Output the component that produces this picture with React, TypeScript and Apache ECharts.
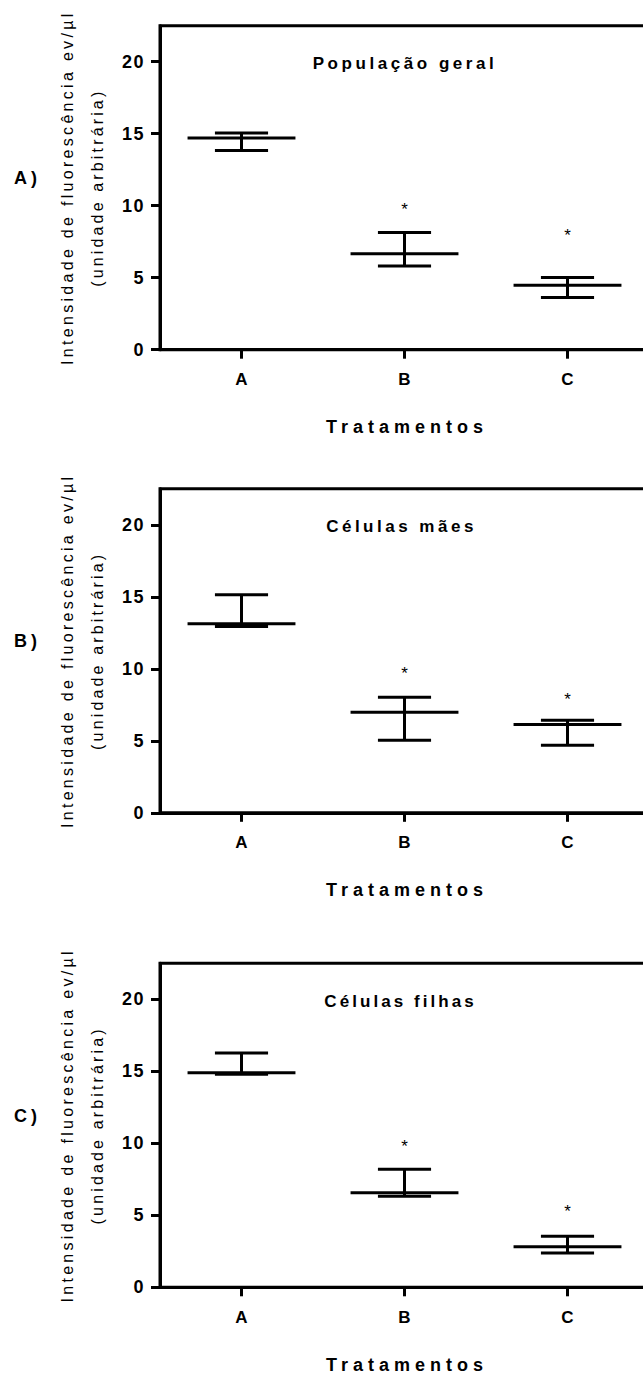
import React, { useEffect, useRef } from "react";
import * as echarts from "echarts";

// ---- data ----
const categories = ["A", "B", "C"];
const panelTitles = ["População geral", "Células mães", "Células filhas"];
const panelLetters = ["A)", "B)", "C)"];
const yTicks = [0, 5, 10, 15, 20];
const xAxisTitle = "Tratamentos";
const yTitle1 = "Intensidade de fluorescência ev/µl";
const yTitle2 = "(unidade arbitrária)";

// Panel A: População geral
const centerGeral = [14.7, 6.66, 4.48];
const upperGeral = [15.05, 8.14, 5.01];
const lowerGeral = [13.84, 5.82, 3.62];
const starGeral = [null, 9.95, 8.16];

// Panel B: Células mães
const centerMaes = [13.12, 6.99, 6.13];
const upperMaes = [15.14, 8.02, 6.42];
const lowerMaes = [12.94, 5.04, 4.69];
const starMaes = [null, 9.87, 8.1];

// Panel C: Células filhas
const centerFilhas = [14.9, 6.56, 2.82];
const upperFilhas = [16.27, 8.2, 3.54];
const lowerFilhas = [14.79, 6.32, 2.38];
const starFilhas = [null, 9.97, 5.44];

const centers = [centerGeral, centerMaes, centerFilhas];
const uppers = [upperGeral, upperMaes, upperFilhas];
const lowers = [lowerGeral, lowerMaes, lowerFilhas];
const stars = [starGeral, starMaes, starFilhas];

// ---- layout ----
const FONT = "Liberation Sans";
const gridTops = [25.7, 488.8, 963.3];
const gridHeight = 324;
const gridLeft = 160;
const gridWidth = 489;
const titleXs = [405, 401.5, 400.5];

const spacingMap: Record<string, number> = {
  "População geral": 3.55,
  "Células mães": 3.5,
  "Células filhas": 3.05,
  Tratamentos: 5,
  "A)": 4,
  "B)": 4,
  "C)": 4,
  [yTitle1]: 3.3,
  [yTitle2]: 3.15,
  "0": 1.5,
  "5": 1.5,
  "10": 1.5,
  "15": 1.5,
  "20": 1.5,
};

export default function App() {
  const ref = useRef<HTMLDivElement>(null);

  useEffect(() => {
    const el = ref.current!;
    const chart = echarts.init(el, undefined, { renderer: "svg" });

    const grids: any[] = [];
    const xAxes: any[] = [];
    const yAxes: any[] = [];
    const series: any[] = [];
    const graphics: any[] = [];

    const lineStyle = { color: "#000", width: 3 };

    for (let p = 0; p < 3; p++) {
      const T = gridTops[p];
      grids.push({
        left: gridLeft,
        top: T,
        width: gridWidth,
        height: gridHeight,
        show: true,
        borderColor: "#000",
        borderWidth: 3,
        backgroundColor: "transparent",
      });
      xAxes.push({
        type: "category",
        gridIndex: p,
        data: categories,
        boundaryGap: true,
        axisLine: { show: true, lineStyle },
        axisTick: { show: true, alignWithLabel: true, length: 9, lineStyle },
        axisLabel: {
          color: "#000",
          fontFamily: FONT,
          fontWeight: "bold",
          fontSize: 17,
          margin: 30,
          verticalAlign: "middle",
        },
        splitLine: { show: false },
      });
      yAxes.push({
        type: "value",
        gridIndex: p,
        min: 0,
        max: 22.5,
        interval: 5,
        axisLine: { show: true, lineStyle },
        axisTick: { show: true, length: 9, lineStyle, customValues: yTicks },
        axisLabel: {
          color: "#000",
          fontFamily: FONT,
          fontWeight: "bold",
          fontSize: 18,
          margin: 15,
          customValues: yTicks,
        },
        splitLine: { show: false },
      });

      const barData = categories.map((c, i) => [i, centers[p][i], uppers[p][i], lowers[p][i]]);
      series.push({
        type: "custom",
        xAxisIndex: p,
        yAxisIndex: p,
        silent: true,
        encode: { x: 0, y: [1, 2, 3] },
        data: barData,
        renderItem: (params: any, api: any) => {
          const ci = api.value(0);
          const m = api.coord([ci, api.value(1)]);
          const hi = api.coord([ci, api.value(2)]);
          const lo = api.coord([ci, api.value(3)]);
          const bw = api.size([1, 0])[0];
          const mh = bw * 0.331;
          const ch = bw * 0.163;
          const st = { stroke: "#000", lineWidth: 3, fill: null };
          return {
            type: "group",
            children: [
              { type: "line", shape: { x1: m[0] - mh, y1: m[1], x2: m[0] + mh, y2: m[1] }, style: st },
              { type: "line", shape: { x1: m[0] - ch, y1: hi[1], x2: m[0] + ch, y2: hi[1] }, style: st },
              { type: "line", shape: { x1: m[0] - ch, y1: lo[1], x2: m[0] + ch, y2: lo[1] }, style: st },
              { type: "line", shape: { x1: m[0], y1: hi[1], x2: m[0], y2: lo[1] }, style: st },
            ],
          };
        },
      });

      const starData: any[] = [];
      categories.forEach((c, i) => {
        if (stars[p][i] != null) starData.push([i, stars[p][i]]);
      });
      series.push({
        type: "custom",
        xAxisIndex: p,
        yAxisIndex: p,
        silent: true,
        encode: { x: 0, y: 1 },
        data: starData,
        renderItem: (params: any, api: any) => {
          const pt = api.coord([api.value(0), api.value(1)]);
          return {
            type: "text",
            x: pt[0],
            y: pt[1] + 3,
            style: {
              text: "*",
              fill: "#000",
              fontSize: 17,
              fontFamily: FONT,
              textAlign: "center",
              textVerticalAlign: "middle",
              align: "center",
              verticalAlign: "middle",
            },
          };
        },
      });

      const txt = (text: string, x: number, y: number, size: number, weight: string, rotation = 0) => ({
        type: "text",
        x,
        y,
        rotation,
        silent: true,
        style: {
          text,
          fill: "#000",
          fontSize: size,
          fontWeight: weight,
          fontFamily: FONT,
          textAlign: "center",
          textVerticalAlign: "middle",
          align: "center",
          verticalAlign: "middle",
        },
      });

      graphics.push(txt(panelTitles[p], titleXs[p], T + 38, 17, "bold"));
      graphics.push(txt(xAxisTitle, 407, T + 401.3, 18, "bold"));
      graphics.push(txt(panelLetters[p], 27.5, T + 152.5, 18, "bold"));
      graphics.push(txt(yTitle1, 67.5, T + 162, 16, "normal", Math.PI / 2));
      graphics.push(txt(yTitle2, 97, T + 162, 16, "normal", Math.PI / 2));
    }

    chart.setOption({
      animation: false,
      backgroundColor: "#fff",
      grid: grids,
      xAxis: xAxes,
      yAxis: yAxes,
      series,
      graphic: { elements: graphics },
    });

    const applySpacing = () => {
      el.querySelectorAll("text").forEach((t) => {
        const s = spacingMap[(t.textContent || "").trim()];
        if (s != null) t.setAttribute("letter-spacing", String(s));
      });
    };
    applySpacing();
    chart.on("finished", applySpacing);
    const raf = requestAnimationFrame(applySpacing);

    return () => {
      cancelAnimationFrame(raf);
      chart.dispose();
    };
  }, []);

  return (
    <div
      style={{
        position: "absolute",
        left: 0,
        top: 0,
        width: 643,
        height: 1374,
        overflow: "hidden",
        background: "#fff",
      }}
    >
      <div ref={ref} style={{ width: 670, height: 1374 }} />
    </div>
  );
}
